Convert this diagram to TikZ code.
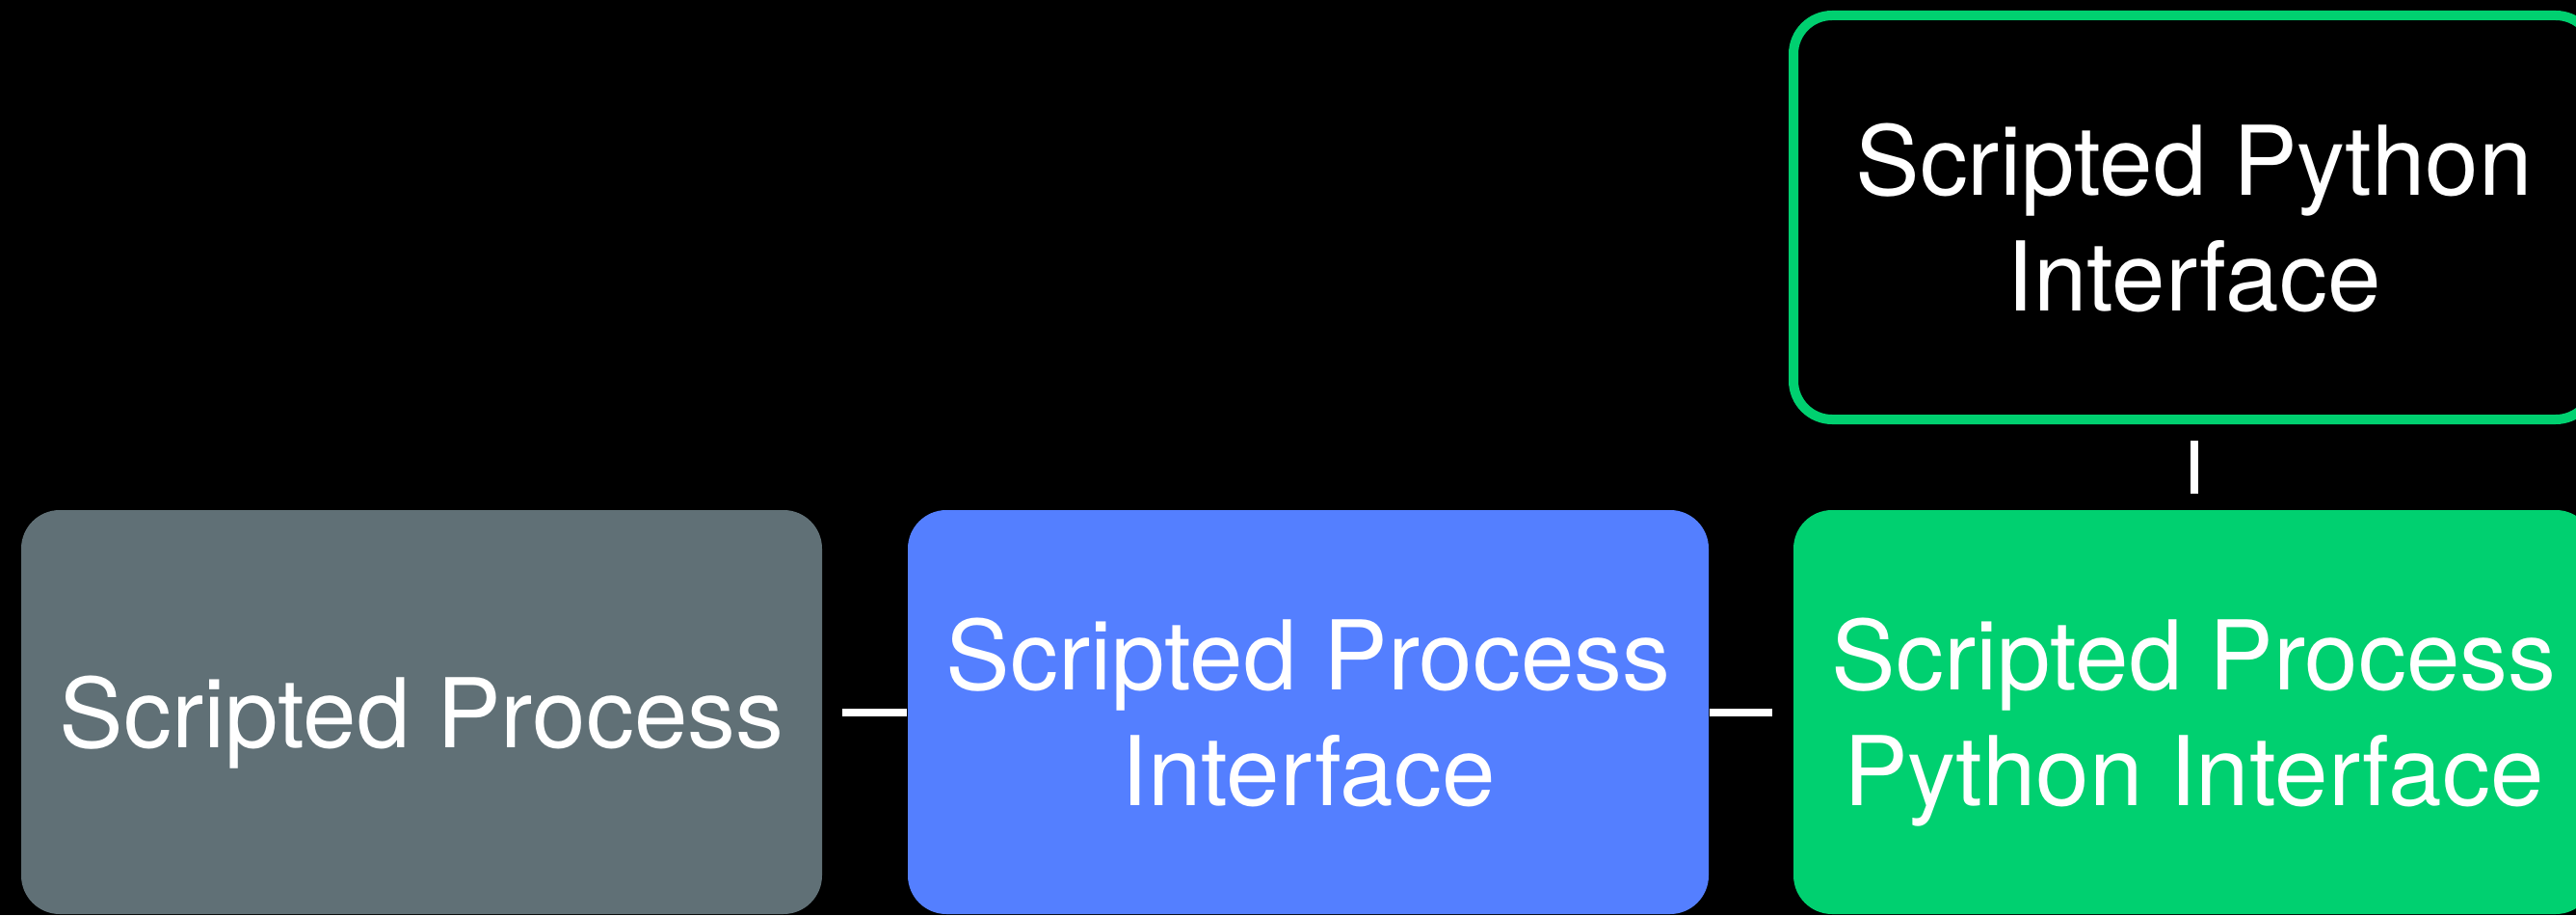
\documentclass[tikz,border=0pt]{standalone}
\usepackage{fontspec}
\setmainfont{TeX Gyre Heros}
\definecolor{bggray}{HTML}{607076}
\definecolor{bgblue}{HTML}{547FFF}
\definecolor{bggreen}{HTML}{00D070}
\tikzset{
  box/.style={rounded corners=0.4cm, minimum width=8.31cm, minimum height=4.19cm,
    inner sep=0pt, align=center, text=white, text depth=0pt,
    font=\fontsize{28.4}{34.1}\selectfont},
  link/.style={draw=white, line width=0.08cm}
}
\begin{document}
\begin{tikzpicture}
\fill[black] (0,0) rectangle (26.73,9.49);
\useasboundingbox (0,0) rectangle (26.73,9.49);
\node[box, fill=bggray] (sp) at (4.375,2.105) {Scripted Process};
\node[box, fill=bgblue] (spi) at (13.575,2.105) {Scripted Process\\Interface};
\node[box, fill=bggreen] (sppi) at (22.765,2.105) {Scripted Process\\Python Interface};
\node[box, draw=bggreen, line width=0.1cm] (spyi) at (22.765,7.235) {Scripted Python\\Interface};
\draw[link, shorten <=0.2cm] (sp.east) -- (spi.west);
\draw[link, shorten >=0.21cm] (spi.east) -- (sppi.west);
\draw[link, shorten <=0.17cm, shorten >=0.16cm] (spyi.south) -- (sppi.north);
\end{tikzpicture}
\end{document}
